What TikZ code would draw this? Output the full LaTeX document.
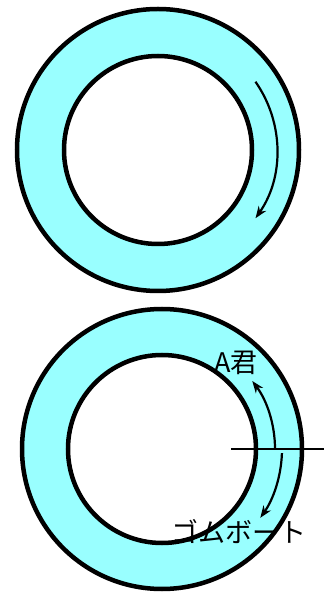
\documentclass[tikz,border=0pt]{standalone}
\usepackage{fontspec}
\newfontfamily\jpfont{Noto Sans CJK JP}
\usepackage{tikz}
\usetikzlibrary{positioning,arrows.meta}
\definecolor{ringcyan}{RGB}{153,255,255}
\tikzset{
  ring/.style={line width=4.5pt},
  flow/.style={line width=2.2pt, -{Stealth[length=12pt,width=9pt]}},
  tag/.style={font=\jpfont\fontsize{27}{30}\selectfont, inner sep=0pt}
}
\begin{document}
\begin{tikzpicture}[x=1pt,y=1pt]
  \useasboundingbox (0,0) rectangle (324,592);

  % Anneau du haut
  \coordinate (c1) at (158,442);
  \fill[ringcyan, even odd rule] (c1) circle (141pt) (c1) circle (94pt);
  \draw[ring] (c1) circle (141pt);
  \draw[ring] (c1) circle (94pt);
  \draw[flow] ([shift={(35:119pt)}]c1) arc[start angle=35, end angle=-35, radius=119pt];

  % Anneau du bas
  \coordinate (c2) at (162,143);
  \fill[ringcyan, even odd rule] (c2) circle (140pt) (c2) circle (94pt);
  \draw[ring] (c2) circle (140pt);
  \draw[ring] (c2) circle (94pt);

  % Ligne de depart
  \coordinate (axisL) at (231,143);
  \coordinate (axisR) at (324,143);
  \draw[line width=1.8pt] (axisL) -- (axisR);

  % Sens des deux
  \draw[flow] ([shift={(0:113pt)}]c2) arc[start angle=0, end angle=37, radius=113pt];
  \draw[flow] ([shift={(-2:120pt)}]c2) arc[start angle=-2, end angle=-35, radius=120pt];

  % Etiquettes
  \node[tag] (kun) at (236,229) {A君};
  \node[tag] (boat) at (239,60) {ゴムボート};
\end{tikzpicture}
\end{document}
